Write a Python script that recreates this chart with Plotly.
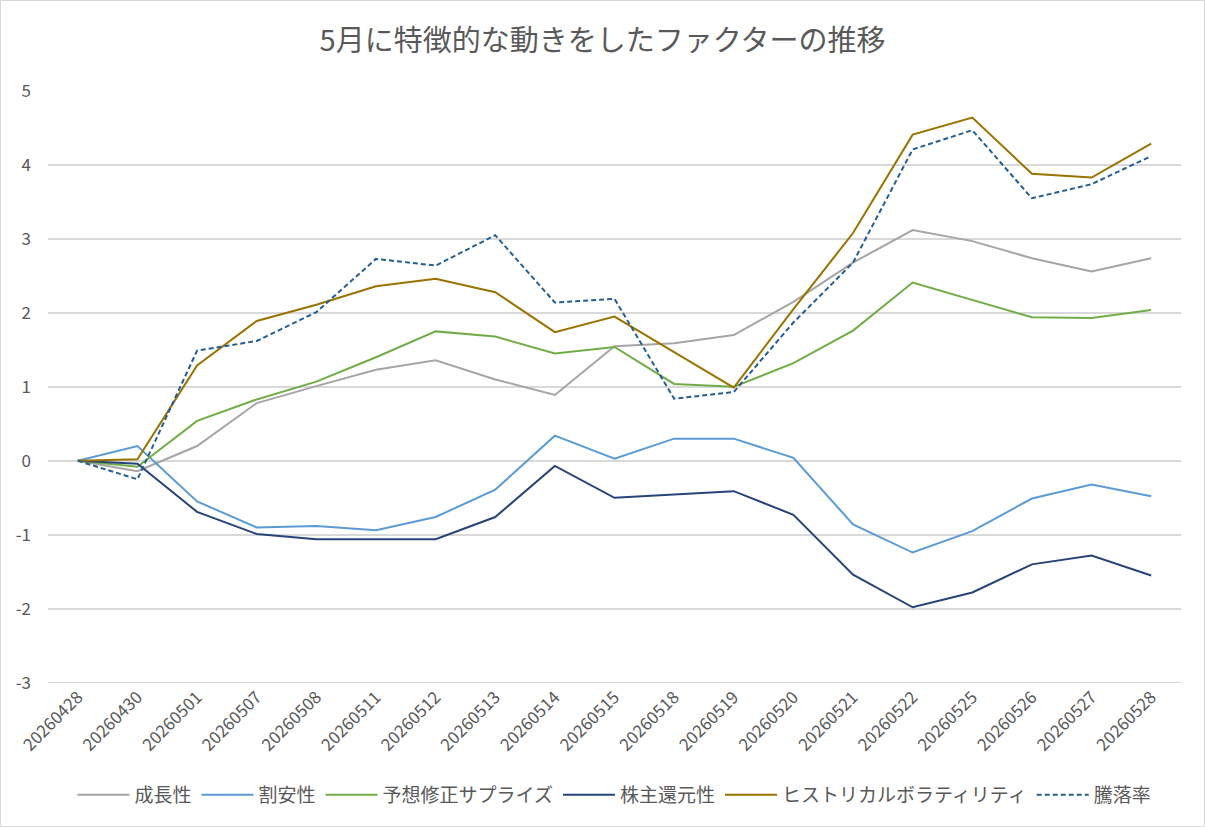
import plotly.graph_objects as go

dates = ["20260428", "20260430", "20260501", "20260507", "20260508", "20260511",
         "20260512", "20260513", "20260514", "20260515", "20260518", "20260519",
         "20260520", "20260521", "20260522", "20260525", "20260526", "20260527",
         "20260528"]

growth = [0, -0.14, 0.20, 0.78, 1.01, 1.23, 1.36, 1.10, 0.89, 1.55, 1.59, 1.70,
          2.15, 2.68, 3.12, 2.97, 2.74, 2.56, 2.74]
value = [0, 0.20, -0.55, -0.90, -0.88, -0.94, -0.76, -0.39, 0.34, 0.03, 0.30, 0.30,
         0.04, -0.86, -1.24, -0.95, -0.51, -0.32, -0.48]
surprise = [0, -0.08, 0.54, 0.83, 1.07, 1.40, 1.75, 1.68, 1.45, 1.54, 1.04, 1.00,
            1.32, 1.76, 2.41, 2.17, 1.94, 1.93, 2.04]
shareholder = [0, -0.04, -0.69, -0.99, -1.06, -1.06, -1.06, -0.76, -0.07, -0.50, -0.45, -0.41,
               -0.73, -1.54, -1.98, -1.78, -1.40, -1.28, -1.55]
hist_vol = [0, 0.02, 1.29, 1.89, 2.11, 2.36, 2.46, 2.28, 1.74, 1.95, 1.47, 0.99,
            2.05, 3.08, 4.41, 4.64, 3.88, 3.83, 4.29]
change_rate = [0, -0.25, 1.49, 1.62, 2.01, 2.73, 2.64, 3.05, 2.14, 2.19, 0.84, 0.93,
               1.87, 2.68, 4.21, 4.47, 3.55, 3.74, 4.12]

y_ticks = [-3, -2, -1, 0, 1, 2, 3, 4, 5]
y_tick_labels = ["-3", "-2", "-1", "0", "1", "2", "3", "4", "5"]

series = [
    ("成長性", growth, "#A5A5A5", "solid"),
    ("割安性", value, "#5B9BD5", "solid"),
    ("予想修正サプライズ", surprise, "#70AD47", "solid"),
    ("株主還元性", shareholder, "#264478", "solid"),
    ("ヒストリカルボラティリティ", hist_vol, "#997300", "solid"),
    ("騰落率", change_rate, "#255E91", "5px,3px"),
]

FONT = "Noto Sans CJK JP"
TXT = "#595959"
GRID = "#D9D9D9"

fig = go.Figure()
for name, ys, color, dash in series:
    fig.add_trace(go.Scatter(
        x=dates, y=ys, name=name, mode="lines",
        line=dict(color=color, width=2, dash=dash),
    ))

W, H = 1205, 827
L, R, T, B = 48, 24, 91, 144
pw, ph = W - L - R, H - T - B

fig.update_layout(
    width=W, height=H,
    margin=dict(l=L, r=R, t=T, b=B),
    paper_bgcolor="white", plot_bgcolor="white",
    font=dict(family=FONT, color=TXT, size=17),
    title=dict(text="5月に特徴的な動きをしたファクターの推移",
               x=0.5, xref="container", xanchor="center",
               y=1 - 41 / H, yref="container", yanchor="middle",
               font=dict(size=29, color=TXT, family=FONT)),
    showlegend=True,
    legend=dict(orientation="h", x=0.5, xanchor="center",
                y=-(795 - (H - B)) / ph, yanchor="middle",
                font=dict(size=19, color=TXT, family=FONT),
                itemwidth=52, tracegroupgap=0),
    xaxis=dict(type="category", range=[-0.5, 18.5], tickangle=-45,
               showgrid=False, zeroline=False, showline=False, ticks="",
               tickfont=dict(size=17, color=TXT, family=FONT)),
    yaxis=dict(range=[-3.004, 5], tickvals=y_ticks, ticktext=y_tick_labels,
               showgrid=True, gridcolor=GRID,
               gridwidth=1.5, zeroline=False, showline=False, ticks="",
               ticklabelstandoff=16,
               tickfont=dict(size=17, color=TXT, family=FONT)),
    shapes=[
        dict(type="rect", xref="paper", yref="paper",
             x0=(0.5 - L) / pw, x1=(W - 0.5 - L) / pw,
             y0=-(H - 0.5 - (H - B)) / ph, y1=1 + (T - 0.5) / ph,
             line=dict(color=GRID, width=1), layer="below"),
        dict(type="line", xref="paper", yref="y",
             x0=0, x1=1, y0=y_ticks[0], y1=y_ticks[0],
             line=dict(color=GRID, width=1.5), layer="below"),
    ],
)

fig.write_html("out.html")
